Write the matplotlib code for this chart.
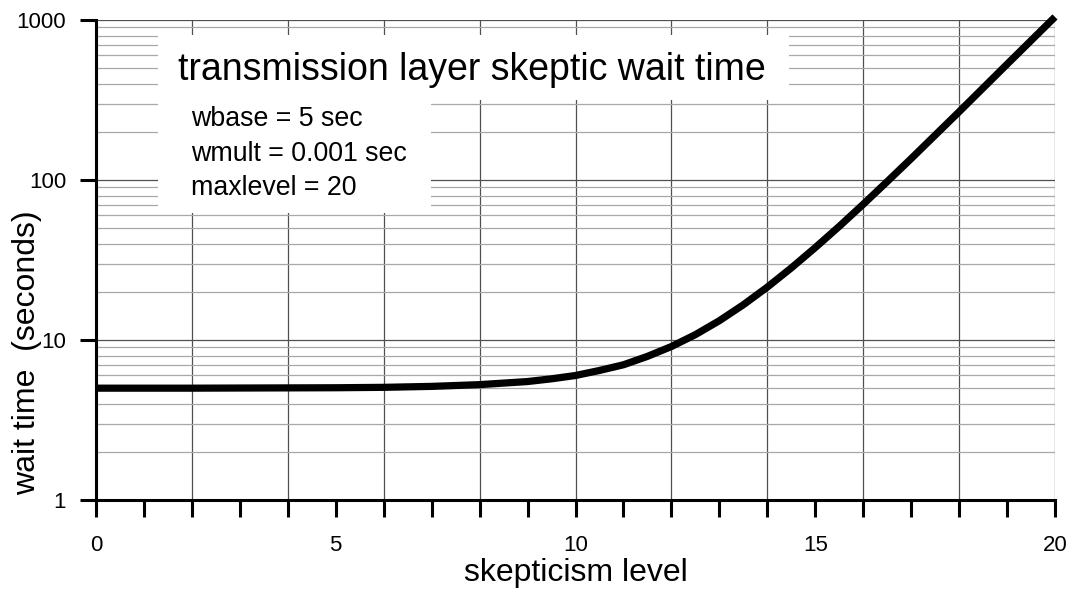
import matplotlib
matplotlib.use('Agg')
import matplotlib.pyplot as plt
from matplotlib.patches import Rectangle
from matplotlib.ticker import LogLocator, FixedLocator, FuncFormatter, NullFormatter

plt.rcParams['font.family'] = ['Liberation Sans', 'DejaVu Sans']

# values
level = [0, 1, 2, 3, 4, 5, 6, 7, 8, 9, 9.5, 10, 10.5, 11, 11.5, 12, 12.5,
         13, 13.5, 14, 14.5, 15, 15.5, 16, 16.5, 17, 18, 19, 20]
wait_time = [5.0, 5.0, 5.0, 5.01, 5.02, 5.03, 5.06, 5.13, 5.26, 5.5, 5.72, 6.0,
             6.45, 7.0, 7.9, 9.1, 10.8, 13.2, 16.6, 21.4, 28.2, 37.8, 51.3,
             70.5, 97.7, 136, 267, 529, 1045]

x_major = [0, 5, 10, 15, 20]
y_major = [1, 10, 100, 1000]
x_grid = [2, 4, 6, 8, 10, 12, 14, 16, 18, 20]

title = 'transmission layer skeptic wait time'
params = ['wbase = 5 sec', 'wmult = 0.001 sec', 'maxlevel = 20']

fig = plt.figure(figsize=(10.73, 5.96), dpi=100)
ax = fig.add_axes([96 / 1073, 96 / 596, 959 / 1073, 480 / 596])

ax.set_yscale('log')
ax.set_xlim(0, 20)
ax.set_ylim(1, 1000)
ax.set_axisbelow(True)

# grid
ax.yaxis.set_major_locator(FixedLocator(y_major))
ax.yaxis.set_minor_locator(LogLocator(base=10, subs=range(2, 10)))
ax.yaxis.set_major_formatter(FuncFormatter(lambda v, p: f'{v:g}'))
ax.yaxis.set_minor_formatter(NullFormatter())
ax.grid(which='major', axis='y', color='#505050', lw=0.9)
ax.grid(which='minor', axis='y', color='#a8a8a8', lw=0.9)
for gx in x_grid:
    ax.axvline(gx, color='#505050', lw=0.9, zorder=0.5)

# white boxes behind the annotations
ax.add_patch(Rectangle((0.0647, 0.8333), 0.658, 0.1355, transform=ax.transAxes,
                       facecolor='white', edgecolor='none', zorder=1))
ax.add_patch(Rectangle((0.0647, 0.598), 0.2846, 0.2353, transform=ax.transAxes,
                       facecolor='white', edgecolor='none', zorder=1))
ax.text(0.0855, 0.875, title, transform=ax.transAxes, fontsize=27,
        va='baseline', ha='left', zorder=2)
for i, s in enumerate(params):
    ax.text(0.0991, 0.779 - i * 0.072, s, transform=ax.transAxes, fontsize=19.3,
            va='baseline', ha='left', zorder=2)

ax.plot(level, wait_time, color='black', lw=5.2, solid_capstyle='butt',
        zorder=3, clip_on=False)

# axes styling
for side in ['top', 'right']:
    ax.spines[side].set_visible(False)
for side in ['left', 'bottom']:
    ax.spines[side].set_linewidth(2.2)
    ax.spines[side].set_zorder(4)

ax.set_xticks(x_major)
ax.set_xticks(range(0, 21), minor=True)
ax.tick_params(axis='x', which='both', direction='out', length=12, width=2.2,
               labelsize=16, pad=13)
ax.tick_params(axis='y', which='major', direction='out', length=11.5, width=2.2,
               labelsize=16, pad=10)
ax.tick_params(axis='y', which='minor', length=0)

ax.set_xlabel('skepticism level', fontsize=23, labelpad=2)
ax.set_ylabel('wait time  (seconds)', fontsize=23)
ax.yaxis.set_label_coords(-0.056, 0.306)

fig.savefig('out.png', dpi=100)
